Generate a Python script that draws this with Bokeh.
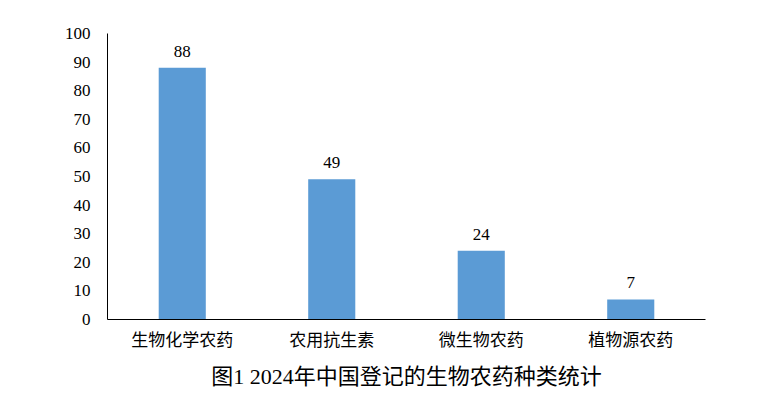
from bokeh.plotting import figure
from bokeh.models import ColumnDataSource, LabelSet, Range1d, FixedTicker
from bokeh.embed import file_html
from bokeh.resources import INLINE

categories = ["生物化学农药", "农用抗生素", "微生物农药", "植物源农药"]
counts = [88, 49, 24, 7]
y_ticks = [0, 10, 20, 30, 40, 50, 60, 70, 80, 90, 100]
title_text = "图1 2024年中国登记的生物农药种类统计"

SERIF = "'Liberation Serif', 'Times New Roman', serif"
TITLE_FONT = "'Liberation Serif', 'Noto Sans CJK SC', serif"
SANS = "Noto Sans CJK SC"

src = ColumnDataSource(dict(cat=categories, val=counts, lab=[str(v) for v in counts]))

p = figure(x_range=categories, y_range=Range1d(0, 100), width=770, height=397,
           output_backend="svg", toolbar_location=None,
           min_border_left=107, min_border_right=65, min_border_top=33, min_border_bottom=78)

p.vbar(x="cat", top="val", width=0.315, source=src, color="#5B9BD5", line_color=None)

labels = LabelSet(x="cat", y="val", text="lab", source=src, text_align="center",
                  text_baseline="bottom", y_offset=11, text_font_size="17px",
                  text_font=SERIF, text_color="#000000")
p.add_layout(labels)

p.xgrid.visible = False
p.ygrid.visible = False
p.outline_line_color = None

p.yaxis.ticker = FixedTicker(ticks=y_ticks)
p.yaxis.major_tick_line_color = None
p.yaxis.minor_tick_line_color = None
p.yaxis.axis_line_color = "#000000"
p.yaxis.major_label_text_font = SERIF
p.yaxis.major_label_text_font_size = "17px"
p.yaxis.major_label_text_color = "#000000"
p.yaxis.major_label_standoff = 11

p.xaxis.major_tick_line_color = None
p.xaxis.minor_tick_line_color = None
p.xaxis.axis_line_color = "#000000"
p.xaxis.major_label_text_font = SANS
p.xaxis.major_label_text_font_size = "17px"
p.xaxis.major_label_text_color = "#000000"
p.xaxis.major_label_standoff = 0
p.xaxis.axis_label = title_text
p.xaxis.axis_label_text_font = TITLE_FONT
p.xaxis.axis_label_text_font_size = "22px"
p.xaxis.axis_label_text_font_style = "normal"
p.xaxis.axis_label_text_color = "#000000"
p.xaxis.axis_label_standoff = 10

open("out.html", "w").write(file_html(p, INLINE))
